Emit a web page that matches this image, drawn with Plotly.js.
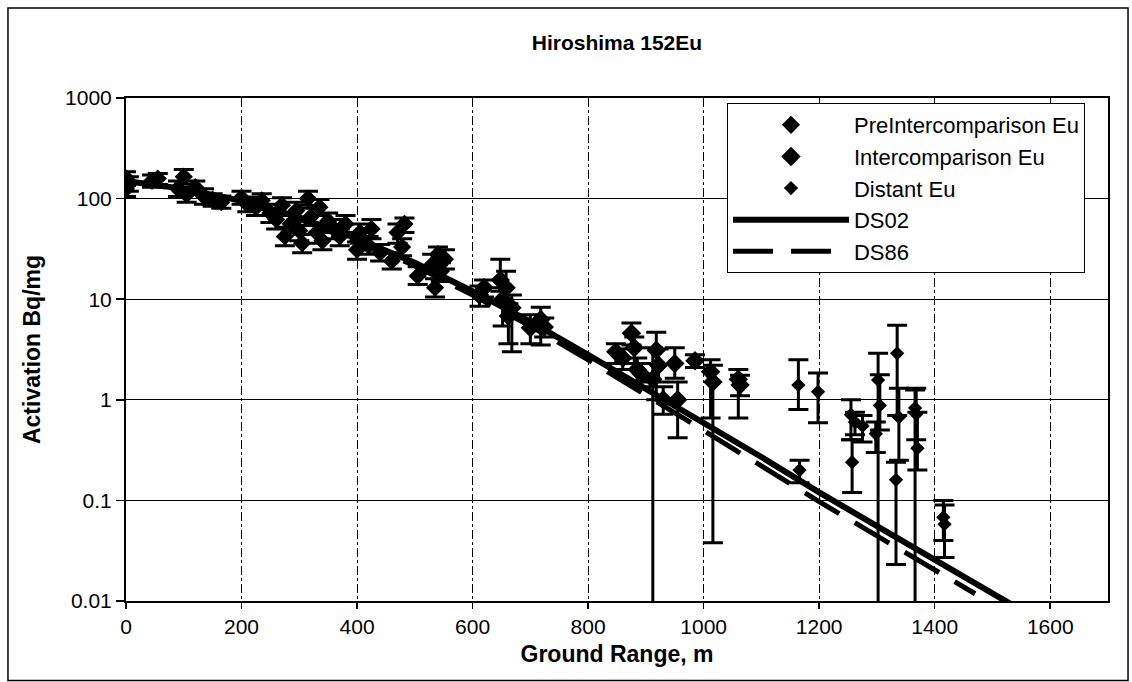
<!DOCTYPE html>
<html><head><meta charset="utf-8">
<script src="https://cdn.plot.ly/plotly-3.0.1.min.js"></script>
<style>html,body{margin:0;padding:0;background:#fff}#chart{width:1132px;height:682px}</style>
</head><body><div id="chart"></div>
<script>
// PreIntercomparison Eu
const preX  = [0,0,5,45,55,90,100,105,120,135,150,165,200,210,225,235,250,260,270,275,285,295,300,305,315,320,330,335,340,350,360,370,380,400,405,420,425,440,460,470,478,482,505,530,535,540,545,552];
const preY  = [160,125,140,150,158,125,165,110,130,105,98,92,102,88,82,96,72,62,86,42,56,76,48,36,100,66,46,82,38,60,50,42,56,31,46,34,50,29,24,46,33,56,17,22,13,28,19,25];
const preLo = [135,105,118,130,138,105,140,92,110,88,84,80,88,74,68,82,58,50,72,34,46,62,38,29,86,54,36,68,31,48,40,34,46,25,36,28,40,24,20,36,27,46,14,18,10.5,22,15,20];
const preHi = [185,145,165,172,178,150,195,130,150,125,112,106,118,104,96,112,88,76,102,52,68,92,60,44,118,80,56,98,46,72,62,50,68,37,56,42,62,35,29,56,40,64,21,28,16,33,23,31];
// Intercomparison Eu
const intX  = [612,620,648,652,658,662,668,700,718,724,848,860,875,880,885,892,912,918,922,930,950,955,985,1012,1016,1060,1063];
const intY  = [11,13,15.5,10,13,6.8,8.2,5.2,6.3,5.3,3.0,2.6,4.6,3.3,2.0,1.8,1.6,3.1,2.2,1.0,2.3,1.0,2.45,1.9,1.5,1.6,1.4];
const intLo = [8.5,10.5,12,5.4,9,3.6,3,3.6,3.5,4.2,2.3,2.0,3.5,2.3,1.5,1.35,0.001,1.0,1.5,0.72,1.64,0.42,2.1,0.66,0.038,0.66,1.1];
const intHi = [13.5,15.5,25,13,19,9,11,7,8.3,6.5,3.6,3.2,5.8,4.2,2.6,2.3,3.3,4.7,3.2,1.35,3.3,1.5,2.8,2.5,2.2,2.0,1.75];
// Distant Eu
const disX  = [1164,1166,1198,1255,1257,1262,1275,1302,1305,1298,1335,1338,1333,1366,1370,1368,1415,1417];
const disY  = [1.4,0.2,1.2,0.71,0.24,0.6,0.55,1.57,0.88,0.46,2.9,0.67,0.16,0.83,0.33,0.72,0.068,0.058];
const disLo = [0.8,0.15,0.59,0.4,0.12,0.45,0.38,0.001,0.5,0.3,0.7,0.25,0.023,0.001,0.2,0.4,0.04,0.027];
const disHi = [2.5,0.25,1.85,1.0,0.4,0.75,0.7,2.9,1.77,0.6,5.5,1.3,0.24,1.25,0.75,1.3,0.1,0.09];
// Calculations
const ds02X = [0,100,200,300,400,500,600,700,800,900,1000,1100,1200,1300,1400,1520,1560];
const ds02Y = [150,125,95,65,40,23,12,6,2.8,1.3,0.6,0.27,0.12,0.055,0.025,0.01,0.0075];
const ds86X = [0,100,200,300,400,500,600,700,800,900,1000,1100,1200,1300,1400,1470];
const ds86Y = [150,122,92,62,38,21.5,11,5.4,2.5,1.12,0.5,0.22,0.097,0.044,0.02,0.0118];
// Axis ticks
const yTickVals = [0.01,0.1,1,10,100,1000];
const yTickText = ['0.01','0.1','1','10','100','1000'];
const xTickVals = [0,200,400,600,800,1000,1200,1400,1600];

const FONT = 'Liberation Sans, Arial, sans-serif';
function errs(y, lo, hi) {
  return {type:'data', symmetric:false,
    array: y.map((v,i)=>hi[i]-v), arrayminus: y.map((v,i)=>v-lo[i]),
    color:'#000', thickness:3, width:10};
}
const traces = [
  {x:preX, y:preY, name:'PreIntercomparison Eu', mode:'markers', type:'scatter', legendgroup:'a',
   marker:{symbol:'diamond', size:14, color:'#000'}, error_y: errs(preY, preLo, preHi)},
  {x:intX, y:intY, name:'Intercomparison Eu', mode:'markers', type:'scatter', legendgroup:'b',
   marker:{symbol:'diamond', size:15, color:'#000'}, error_y: errs(intY, intLo, intHi)},
  {x:disX, y:disY, name:'Distant Eu', mode:'markers', type:'scatter', legendgroup:'c',
   marker:{symbol:'diamond', size:11, color:'#000'}, error_y: errs(disY, disLo, disHi)},
  {x:ds02X, y:ds02Y, name:'DS02', mode:'lines', type:'scatter', legendgroup:'d',
   line:{color:'#000', width:6}},
  {x:ds86X, y:ds86Y, name:'DS86', mode:'lines', type:'scatter', legendgroup:'e',
   line:{color:'#000', width:5, dash:'40px,18px'}}
];
const layout = {
  width:1132, height:682,
  margin:{l:126, r:24, t:98, b:81},
  paper_bgcolor:'#fff', plot_bgcolor:'#fff',
  font:{family:FONT, color:'#000', size:21},
  title:{text:'<b>Hiroshima 152Eu</b>', x:0.545, xanchor:'center', y:1-43/682, yanchor:'middle',
         font:{family:FONT, size:21, color:'#000'}},
  xaxis:{range:[0,1700], tickvals:xTickVals, ticks:'outside', ticklen:6, tickwidth:1.5, tickcolor:'#000',
         showline:true, linecolor:'#000', linewidth:2, mirror:true, zeroline:false,
         showgrid:true, gridcolor:'#000', gridwidth:1, griddash:'dashdot',
         tickfont:{family:FONT, size:21},
         title:{text:'<b>Ground Range, m</b>', font:{family:FONT, size:23}, standoff:9}},
  yaxis:{type:'log', range:[-2,3], tickvals:yTickVals, ticktext:yTickText, ticks:'outside', ticklen:8,
         tickwidth:1.5, tickcolor:'#000', showline:true, linecolor:'#000', linewidth:2, mirror:true,
         showgrid:true, gridcolor:'#000', gridwidth:1,
         tickfont:{family:FONT, size:21},
         title:{text:'<b>Activation Bq/mg</b>', font:{family:FONT, size:23}, standoff:18}},
  legend:{x:0.612, xanchor:'left', y:0.99, yanchor:'top', bgcolor:'#fff', bordercolor:'#000', borderwidth:1,
          font:{family:FONT, size:22}, itemwidth:116, tracegroupgap:0, traceorder:'normal'},
  showlegend:true,
  shapes:[{type:'rect', xref:'paper', yref:'paper', x0:-0.1202, x1:1.0204, y0:-0.158, y1:1.179,
           line:{color:'#000', width:1.5}, fillcolor:'rgba(0,0,0,0)'}]
};
Plotly.newPlot('chart', traces, layout, {displayModeBar:false, staticPlot:true});
</script>
</body></html>
